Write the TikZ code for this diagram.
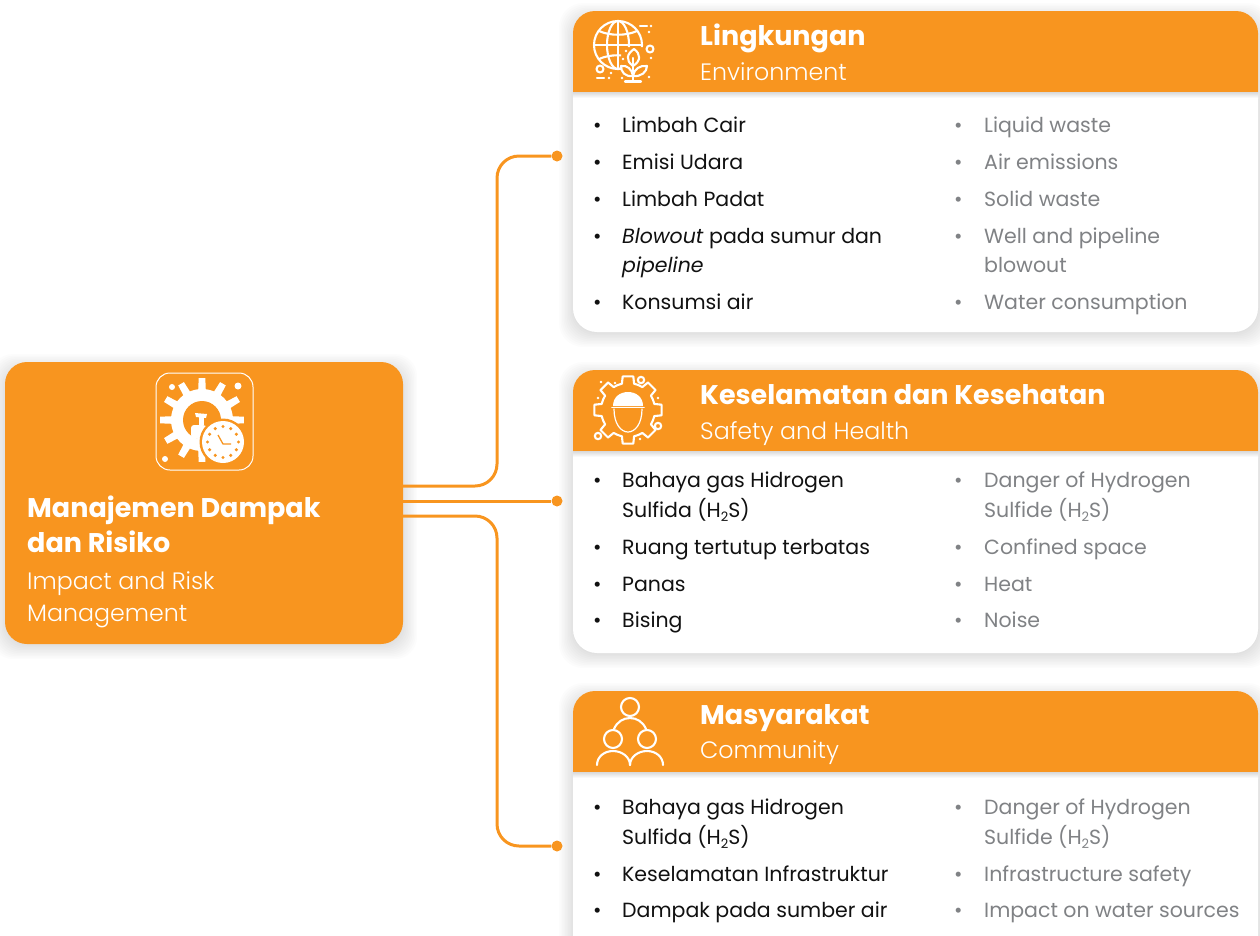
\documentclass[tikz,border=0pt]{standalone}
\usepackage{fontspec}
\setmainfont{Poppins}
\newfontfamily\lightf{Poppins Light}
\usetikzlibrary{calc}
\definecolor{brand}{HTML}{F8951F}
\definecolor{greytxt}{HTML}{808285}
\definecolor{inktxt}{HTML}{111111}
\newcommand{\subtwo}{\raisebox{-0.38ex}{\fontsize{13}{13}\selectfont 2}}
\tikzset{
  txt/.style={anchor=base west,inner sep=0pt,font=\fontsize{20.5}{25}\selectfont},
  idtxt/.style={txt,text=inktxt},
  entxt/.style={txt,text=greytxt},
  headtxt/.style={anchor=base west,inner sep=0pt,text=white,font=\fontsize{27}{32}\selectfont\bfseries},
  subtxt/.style={anchor=base west,inner sep=0pt,text=white,font=\fontsize{23.7}{28}\selectfont\lightf},
  card/.style={rectangle,rounded corners=24pt,fill=white,minimum width=685pt,inner sep=0pt},
  mainbox/.style={rectangle,rounded corners=22pt,fill=brand,minimum width=398pt,minimum height=282pt,inner sep=0pt},
  conn/.style={draw=brand,line width=3pt,rounded corners=22pt},
  dotnode/.style={circle,fill=brand,minimum size=11pt,inner sep=0pt},
  ico/.style={draw=white,line width=2.1pt,line cap=round,line join=round},
}
\newcommand{\softshadow}[5]{% x1 y1 x2 y2 r
  \foreach \k in {0,...,11}{
    \fill[black,opacity=0.011,rounded corners=#5pt]
      ({#1-14+\k*1.5},{#2-8+\k*1.5}) rectangle ({#3+14-\k*1.5},{#4+15-\k*1.5});
  }}
\newcommand{\header}[2]{% top y, bottom y
  \fill[brand] (573,#2) [rounded corners=22pt] -- (573,#1) -- (1258,#1) [sharp corners] -- (1258,#2) -- cycle;
  \shade[top color=black!15,bottom color=white] (573,#2) rectangle (1258,#2+6);
}
\newcommand{\bul}[2]{\node[idtxt] at (593,#2) {•};\node[idtxt] at (622,#2) {#1};}
\newcommand{\bue}[2]{\node[entxt] at (954,#2) {•};\node[entxt] at (984,#2) {#1};}
\begin{document}
\begin{tikzpicture}[x=1pt,y=-1pt]
\clip (0,0) rectangle (1260,935);
% shadows
\softshadow{5}{362}{403}{644}{22}
\softshadow{573}{11}{1258}{332}{24}
\softshadow{573}{370}{1258}{653}{24}
\softshadow{573}{691}{1258}{960}{24}
% cards
\node[card,minimum height=321pt] (c1) at (915.5,171.5) {};
\node[card,minimum height=283pt] (c2) at (915.5,511.5) {};
\node[card,minimum height=269pt] (c3) at (915.5,825.5) {};
\header{11}{92}
\header{370}{451}
\header{691}{772}
% main box
\node[mainbox] (main) at (204,503) {};
% connectors
\node[dotnode] (d1) at (557,156) {};
\node[dotnode] (d2) at (557,501) {};
\node[dotnode] (d3) at (557,846) {};
\coordinate (bus) at (497,0);
\coordinate (s1) at (403,486);
\coordinate (s3) at (403,516);
\draw[conn] (s1) -- (s1 -| bus) -- (d1 -| bus) -- (d1);
\draw[conn] (main.east |- d2) -- (d2);
\draw[conn] (s3) -- (s3 -| bus) -- (d3 -| bus) -- (d3);
% main text
\node[headtxt] (m1) at (27,517) {Manajemen Dampak};
\node[headtxt] (m2) at (27,552) {dan Risiko};
\node[subtxt] (m3) at (27,589) {Impact and Risk};
\node[subtxt] (m4) at (27,621) {Management};
% headings
\node[headtxt] (h1) at (700,45) {Lingkungan};
\node[subtxt] (h1e) at (700,80) {Environment};
\node[headtxt] (h2) at (700,404) {Keselamatan dan Kesehatan};
\node[subtxt] (h2e) at (700,439) {Safety and Health};
\node[headtxt] (h3) at (700,724) {Masyarakat};
\node[subtxt] (h3e) at (700,758) {Community};
% card 1 list
\bul{Limbah Cair}{132}
\bul{Emisi Udara}{169}
\bul{Limbah Padat}{206}
\bul{\textit{Blowout} pada sumur dan}{243}
\node[idtxt] (l1b) at (622,272) {\textit{pipeline}};
\bul{Konsumsi air}{309}
\bue{Liquid waste}{132}
\bue{Air emissions}{169}
\bue{Solid waste}{206}
\bue{Well and pipeline}{243}
\node[entxt] (e1b) at (984,272) {blowout};
\bue{Water consumption}{309}
% card 2 list
\bul{Bahaya gas Hidrogen}{487}
\node[idtxt] (l2b) at (622,517) {Sulfida (H\subtwo S)};
\bul{Ruang tertutup terbatas}{554}
\bul{Panas}{591}
\bul{Bising}{627}
\bue{Danger of Hydrogen}{487}
\node[entxt] (e2b) at (984,517) {Sulfide (H\subtwo S)};
\bue{Confined space}{554}
\bue{Heat}{591}
\bue{Noise}{627}
% card 3 list
\bul{Bahaya gas Hidrogen}{814}
\node[idtxt] (l3b) at (622,844) {Sulfida (H\subtwo S)};
\bul{Keselamatan Infrastruktur}{881}
\bul{Dampak pada sumber air}{917}
\bue{Danger of Hydrogen}{814}
\node[entxt] (e3b) at (984,844) {Sulfide (H\subtwo S)};
\bue{Infrastructure safety}{881}
\bue{Impact on water sources}{917}
% icon 1: globe and plant
\begin{scope}
  \clip (585,15) -- (645,15) -- (645,47) -- (621,47) -- (621,75) -- (585,75) -- cycle;
  \draw[ico] (618,45) circle (24);
  \draw[ico] (618,45) ellipse (11 and 24);
  \draw[ico] (618,21) -- (618,69);
  \draw[ico] (594,45) -- (642,45);
  \draw[ico] (599,31) .. controls (610,36) and (626,36) .. (637,31);
  \draw[ico] (599,59) .. controls (610,54) and (626,54) .. (637,59);
\end{scope}
\draw[ico] (633,80) -- (633,58);
\draw[ico] (633,66) .. controls (625,60) and (627,54) .. (634,49) .. controls (641,54) and (641,61) .. (633,66);
\draw[ico] (633,76) .. controls (625,77) and (621,72) .. (621,66) .. controls (627,65) and (632,69) .. (633,76);
\draw[ico] (633,76) .. controls (641,77) and (647,72) .. (647,66) .. controls (640,65) and (634,69) .. (633,76);
\draw[ico] (625,81.5) -- (641,81.5);
\draw[ico] (650,49) circle (3.5);
\draw[ico] (600,69) circle (3.5);
\draw[ico] (640,26) -- (647,26);
\draw[ico] (597,78) -- (604,78);
\foreach \p in {(651,26),(609,78),(649,32),(626,51),(623,59),(651,58),(611,73),(622,78),(649,77)}
  \fill[white] \p circle (1.3);
% icon 2: gear with helmeted head
\begin{scope}[shift={(628,410)}]
  \foreach \a in {0,45,...,315}{
    \draw[ico] (\a-22.5:27) -- (\a-13:27) -- (\a-9:34) -- (\a+9:34) -- (\a+13:27) -- (\a+22.5:27);
  }
\end{scope}
\fill[white] (613,406) .. controls (613,397) and (620,392) .. (628,392) .. controls (636,392) and (643,397) .. (643,406) -- cycle;
\draw[ico,line width=1.6pt] (612,407.5) -- (644,407.5);
\draw[ico,line width=1.2pt] (614,409) .. controls (614,424) and (621,432) .. (628,432) .. controls (635,432) and (642,424) .. (642,409);
\draw[ico] (641,380) circle (3.2);
\draw[ico] (658,426) circle (3.2);
\draw[ico] (598,436) circle (3.2);
\foreach \p in {(601,382),(615,383),(598,398),(658,398),(640,439)}
  \fill[white] \p circle (1.4);
% icon 3: community
\draw[ico] (630,707) circle (9);
\draw[ico] (613,739) circle (9);
\draw[ico] (647,739) circle (9);
\draw[ico] (614,729) .. controls (617,722) and (623,718) .. (630,718) .. controls (637,718) and (643,722) .. (646,729);
\draw[ico] (597,765) .. controls (597,757) and (604,751) .. (613,751) .. controls (622,751) and (630,757) .. (630,765);
\draw[ico] (630,765) .. controls (630,757) and (638,751) .. (647,751) .. controls (656,751) and (663,757) .. (663,765);
% icon main: gear and clock
\draw[white,line width=1pt,rounded corners=14pt] (156,373) rectangle (253,470);
\begin{scope}[shift={(202,420)}]
  \foreach \a in {0,30,...,330}{
    \fill[white] (\a-8:28) -- (\a-4.5:42) -- (\a+4.5:42) -- (\a+8:28) -- cycle;
  }
  \fill[white] (0,0) circle (31);
  \fill[brand] (0,0) circle (19);
\end{scope}
\fill[white] (195,413) -- (207,414) -- (206,418) -- (196,417) -- cycle;
\fill[white] (199,417) rectangle (204,425);
\fill[white,rounded corners=3pt] (191,438) -- (191,425) -- (206,425) -- (208,430) -- (208,440) -- cycle;
\fill[brand] (223,442) circle (23.5);
\fill[white] (223,442) circle (21);
\foreach \a in {0,30,...,330}{
  \fill[brand] ($(223,442)+(\a:15.5)$) circle (1.7);
}
\draw[brand,line width=1.3pt,line join=round] (218,435) -- (223,444) -- (231,444);
\fill[white] (172,387) circle (3);
\fill[white] (238,386) circle (3.5);
\fill[white] (165,459) circle (3);
\end{tikzpicture}
\end{document}
